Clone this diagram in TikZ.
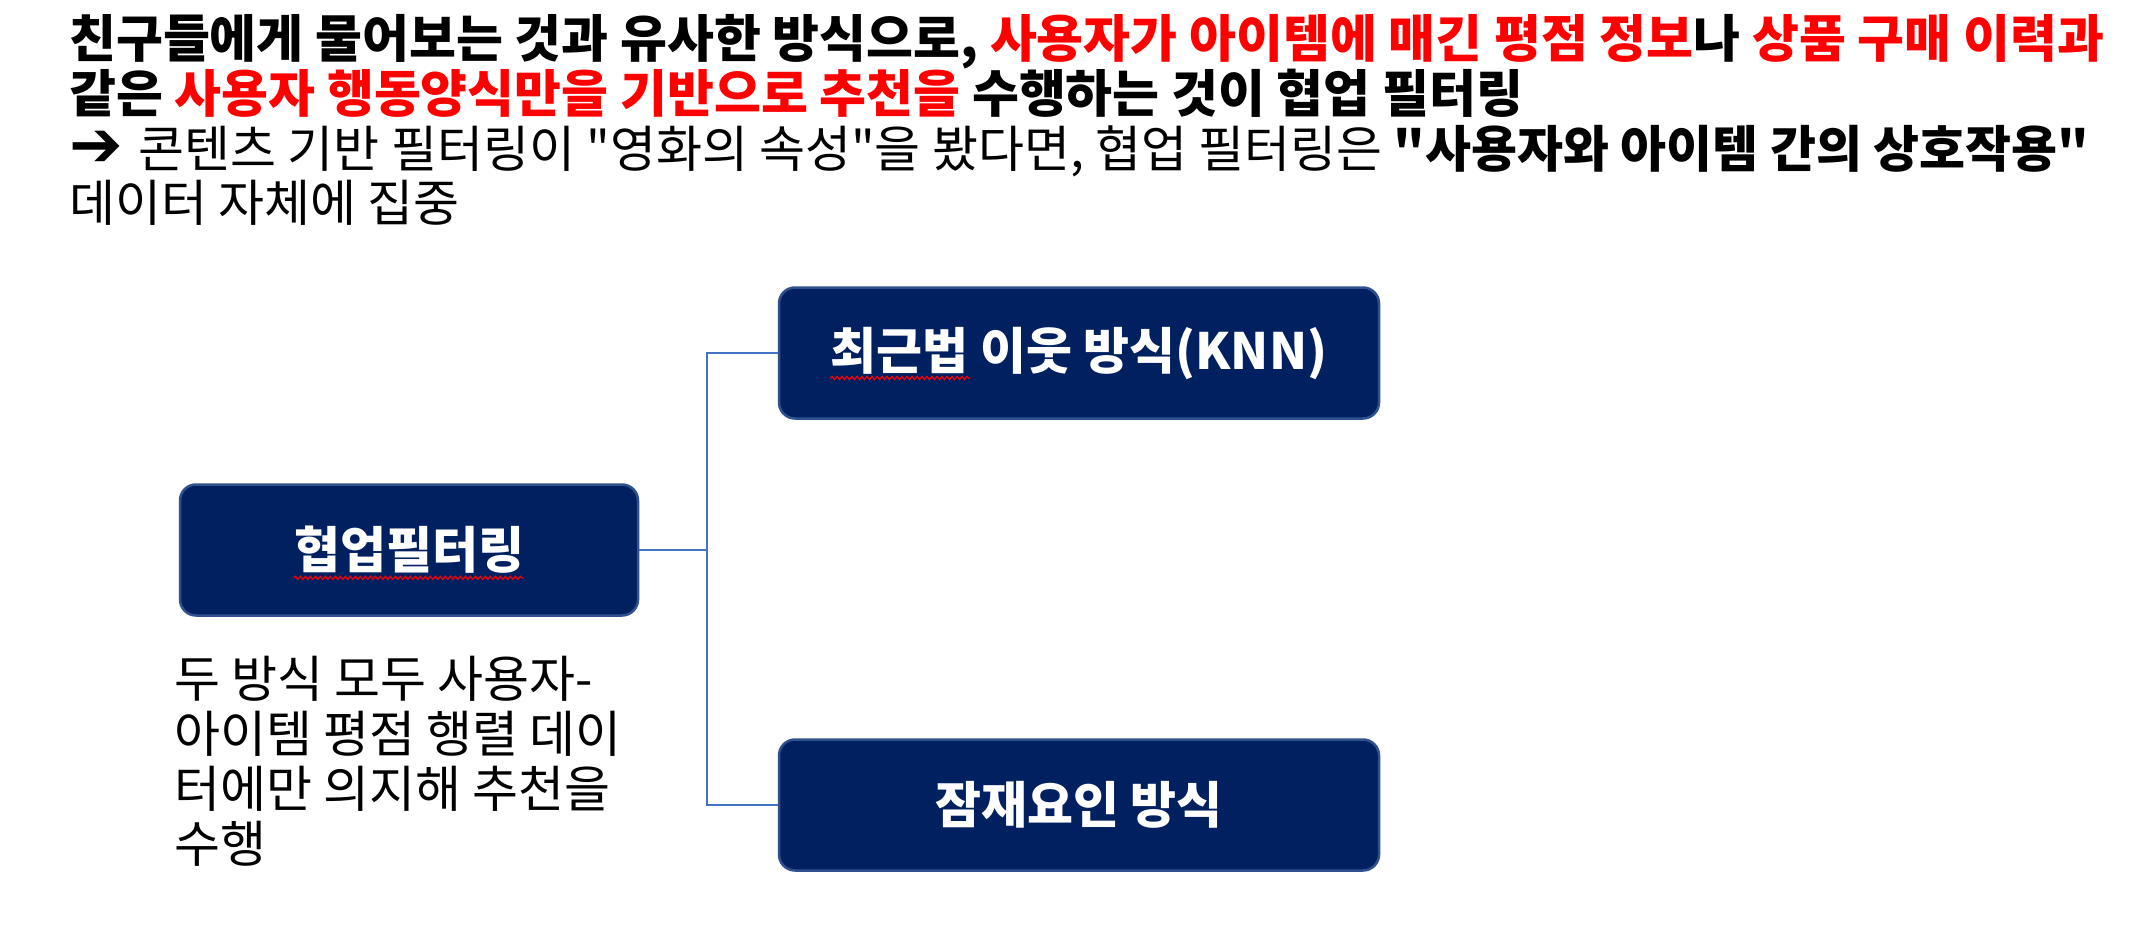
\documentclass[tikz,border=0pt]{standalone}
\usepackage{fontspec}
\defaultfontfeatures{}
\setmainfont{Noto Sans CJK KR}
\newfontfamily\kr{Noto Sans CJK KR}
\newfontfamily\dejavu{DejaVu Sans}
\usetikzlibrary{decorations.pathmorphing}
\definecolor{navy}{HTML}{002060}
\definecolor{navyline}{HTML}{2F528F}
\definecolor{conn}{HTML}{4472C4}
\definecolor{hired}{HTML}{FF0000}
\tikzset{
  txt/.style={anchor=base west, inner sep=0pt, font=\kr\fontsize{50}{55}\selectfont},
  btxt/.style={anchor=base west, inner sep=0pt, font=\kr\fontsize{51}{55}\selectfont\bfseries},
  box/.style={draw=navyline, line width=2.5pt, fill=navy, rounded corners=16pt, inner sep=0pt},
  boxtxt/.style={text=white, inner sep=0pt, font=\kr\fontsize{50}{55}\selectfont\bfseries},
  conline/.style={draw=conn, line width=1.4pt},
  squiggle/.style={draw=hired, line width=1.2pt, decorate, decoration={snake, amplitude=1.6pt, segment length=5pt}}
}
\begin{document}
\begin{tikzpicture}[x=1pt,y=-1pt]
\useasboundingbox[fill=white] (0,0) rectangle (2156,944);
% header text
\node[btxt] (t1) at (69,58) {친구들에게 물어보는 것과 유사한 방식으로, \textcolor{hired}{사용자가 아이템에 매긴 평점 정보}나 \textcolor{hired}{상품 구매 이력과}};
\node[btxt] (t2) at (69,113) {같은 \textcolor{hired}{사용자 행동양식만을 기반으로 추천을} 수행하는 것이 협업 필터링};
\node[txt] (t3) at (69,168) {\raisebox{1pt}{\dejavu\bfseries\fontsize{64}{55}\selectfont ➔}\hspace{16pt}콘텐츠 기반 필터링이 "영화의 속성"을 봤다면, 협업 필터링은 \textbf{"사용자와 아이템 간의 상호작용"}};
\node[txt] (t4) at (69,222) {데이터 자체에 집중};
% boxes
\node[box, minimum width=458pt, minimum height=131pt] (main) at (409,550) {};
\node[box, minimum width=600pt, minimum height=131pt] (knn) at (1079,353) {};
\node[box, minimum width=600pt, minimum height=131pt] (lat) at (1079,805) {};
\node[boxtxt] (mt) at (main.center) {협업필터링};
\node[boxtxt] (kt) at (knn.center) {최근법 이웃 방식(KNN)};
\node[boxtxt] (lt) at (lat.center) {잠재요인 방식};
% spell-check squiggles
\draw[squiggle] ([yshift=-9pt]mt.base west) -- ([yshift=-9pt]mt.base east);
\draw[squiggle] ([yshift=-9pt]kt.base west) -- ++(140,0);
% connectors
\coordinate (br) at (707,550);
\draw[conline] (main.east) -- (br);
\draw[conline] (br) |- (knn.west);
\draw[conline] (br) |- (lat.west);
% side note
\node[txt] (n1) at (174,697) {두 방식 모두 사용자-};
\node[txt] (n2) at (174,752) {아이템 평점 행렬 데이};
\node[txt] (n3) at (174,807) {터에만 의지해 추천을};
\node[txt] (n4) at (174,862) {수행};
\end{tikzpicture}
\end{document}
